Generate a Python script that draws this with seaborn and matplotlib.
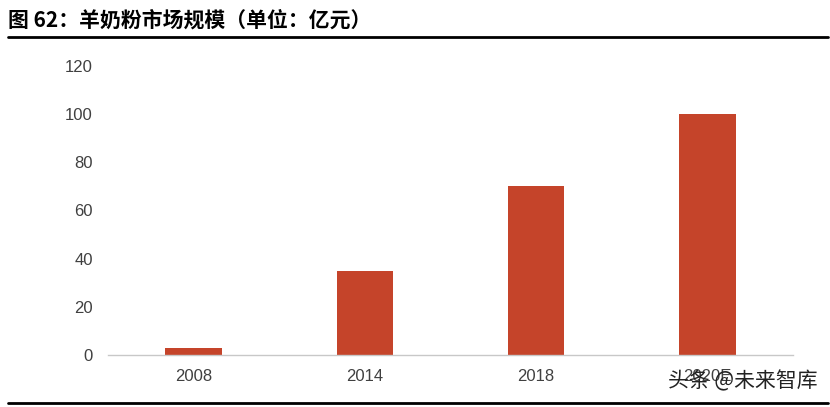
import matplotlib
matplotlib.use("Agg")
import matplotlib.pyplot as plt
import seaborn as sns
import pandas as pd
from matplotlib.lines import Line2D

years = ["2008", "2014", "2018", "2020E"]
values = [3, 35, 70, 100]
yticks = [0, 20, 40, 60, 80, 100, 120]
title = "图 62：羊奶粉市场规模（单位：亿元）"
watermark = "头条 @未来智库"

sns.set_theme(style="white")
plt.rcParams['font.family'] = ['Liberation Sans', 'Noto Sans CJK SC', 'DejaVu Sans']

df = pd.DataFrame({"year": years, "value": values})

fig = plt.figure(figsize=(8.3, 4.07), dpi=100)
ax = fig.add_axes([108/830, (407-355)/407, (793-108)/830, (355-66)/407])
sns.barplot(data=df, x="year", y="value", color="#C5442A", width=0.33,
            saturation=1, ax=ax, edgecolor="none")

ax.set_ylim(0, 120)
ax.set_xlim(-0.5, len(years) - 0.5)
ax.set_yticks(yticks)
ax.set_yticklabels([str(t) for t in yticks], fontsize=12, color="#404040")
ax.set_xlabel("")
ax.set_ylabel("")
ax.tick_params(axis="y", length=0, pad=11)
ax.tick_params(axis="x", length=0, pad=10, labelsize=12, labelcolor="#404040")
for s in ["top", "right", "left"]:
    ax.spines[s].set_visible(False)
ax.spines["bottom"].set_color("#C8C8C8")
ax.spines["bottom"].set_linewidth(1.0)
ax.grid(False)
# boundary tick marks
ax.set_xticks(range(len(years)))
ax.set_xticks([i - 0.5 for i in range(len(years) + 1)], minor=True)
ax.tick_params(axis="x", which="minor", length=3, direction="in", color="#C8C8C8", width=1)

fig.text(8/830, 1 - 20/407, title, fontsize=15, fontweight="bold",
         family=['Noto Sans CJK SC', 'DejaVu Sans'], va="center", ha="left", color="black")
fig.add_artist(Line2D([8/830, 828/830], [1 - 37/407, 1 - 37/407], color="black", lw=2,
                      transform=fig.transFigure))
fig.add_artist(Line2D([8/830, 828/830], [1 - 403/407, 1 - 403/407], color="black", lw=2,
                      transform=fig.transFigure))
fig.text(668/830, 1 - 381/407, watermark, fontsize=15,
         family=['Noto Sans CJK SC', 'DejaVu Sans'], va="center", ha="left", color="#222222")

fig.savefig("out.png", dpi=100)
